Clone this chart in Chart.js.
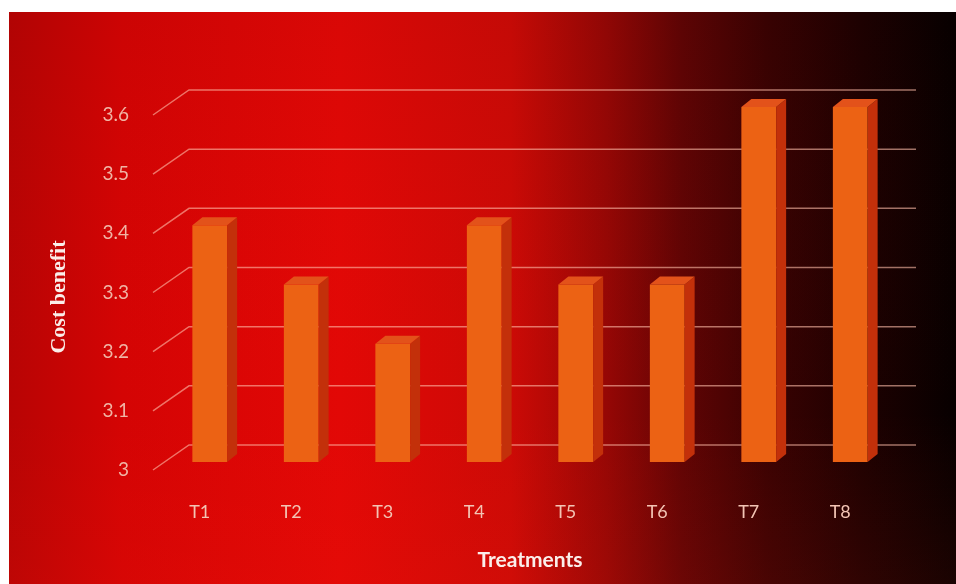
<!DOCTYPE html>
<html>
<head>
<meta charset="utf-8">
<title>Cost benefit by treatment</title>
<script src="https://cdn.jsdelivr.net/npm/chart.js@4.4.1/dist/chart.umd.min.js"></script>
<style>
  html, body { margin: 0; padding: 0; background: #fff; }
  #wrap { width: 956px; height: 584px; position: relative; }
</style>
</head>
<body>
<div id="wrap"><canvas id="mainChart"></canvas></div>
<script>
const treatments = ['T1', 'T2', 'T3', 'T4', 'T5', 'T6', 'T7', 'T8'];
const costBenefit = [3.4, 3.3, 3.2, 3.4, 3.3, 3.3, 3.6, 3.6];
const yTicks = [3, 3.1, 3.2, 3.3, 3.4, 3.5, 3.6];

// depth of the fake 3d: bar side/top and the wall behind
const depth = { dx: 10, dy: 8, wallDx: 25, wallDy: 17, frontDx: -11, frontDy: 8, wallRight: 916 };

const backdrop = {
  id: 'backdrop',
  beforeDraw(chart) {
    const ctx = chart.ctx;
    const g = ctx.createLinearGradient(9, 0, 956, 0);
    g.addColorStop(0, '#b80404');
    g.addColorStop(0.12, '#d40404');
    g.addColorStop(0.35, '#e20806');
    g.addColorStop(0.53, '#cc0a06');
    g.addColorStop(0.63, '#960705');
    g.addColorStop(0.71, '#600404');
    g.addColorStop(0.8, '#3a0202');
    g.addColorStop(0.9, '#1e0101');
    g.addColorStop(1, '#070000');
    ctx.save();
    ctx.fillStyle = g;
    ctx.fillRect(9, 12, 947, 572);
    // slightly brighter band towards the bottom
    const v = ctx.createLinearGradient(0, 12, 0, 584);
    v.addColorStop(0, 'rgba(0,0,0,0.04)');
    v.addColorStop(0.7, 'rgba(255,30,10,0)');
    v.addColorStop(1, 'rgba(255,40,20,0.08)');
    ctx.fillStyle = v;
    ctx.fillRect(9, 12, 947, 572);
    ctx.restore();
  }
};

const wallGrid = {
  id: 'wallGrid',
  beforeDatasetsDraw(chart) {
    const { ctx, chartArea, scales } = chart;
    const left = chartArea.left;
    ctx.save();
    ctx.strokeStyle = 'rgba(255,190,170,0.6)';
    ctx.lineWidth = 1.5;
    yTicks.forEach(t => {
      const py = scales.y.getPixelForValue(t);
      ctx.beginPath();
      ctx.moveTo(left + depth.frontDx, py + depth.frontDy);
      ctx.lineTo(left + depth.wallDx, py - depth.wallDy);
      ctx.lineTo(depth.wallRight, py - depth.wallDy);
      ctx.stroke();
    });
    ctx.restore();
  }
};

const barDepth = {
  id: 'barDepth',
  afterDatasetsDraw(chart) {
    const ctx = chart.ctx;
    const bottom = chart.chartArea.bottom;
    const meta = chart.getDatasetMeta(0);
    ctx.save();
    meta.data.forEach(bar => {
      const { x, y, width } = bar.getProps(['x', 'y', 'width'], true);
      const l = x - width / 2, r = x + width / 2;
      // side
      ctx.fillStyle = '#c3300a';
      ctx.beginPath();
      ctx.moveTo(r, y);
      ctx.lineTo(r + depth.dx, y - depth.dy);
      ctx.lineTo(r + depth.dx, bottom - depth.dy);
      ctx.lineTo(r, bottom);
      ctx.closePath();
      ctx.fill();
      // top
      ctx.fillStyle = '#e3521a';
      ctx.beginPath();
      ctx.moveTo(l, y);
      ctx.lineTo(l + depth.dx, y - depth.dy);
      ctx.lineTo(r + depth.dx, y - depth.dy);
      ctx.lineTo(r, y);
      ctx.closePath();
      ctx.fill();
    });
    ctx.restore();
  }
};

const yTitle = {
  id: 'yTitle',
  afterDraw(chart) {
    const ctx = chart.ctx;
    ctx.save();
    ctx.translate(59, 297);
    ctx.rotate(-Math.PI / 2);
    ctx.fillStyle = '#fbeeea';
    ctx.font = 'bold 22px "Liberation Serif", "DejaVu Serif", serif';
    ctx.textAlign = 'center';
    ctx.textBaseline = 'middle';
    ctx.fillText('Cost benefit', 0, 0);
    ctx.restore();
  }
};

const config = {
  type: 'bar',
  data: {
    labels: treatments,
    datasets: [{
      label: 'Cost benefit',
      data: costBenefit,
      backgroundColor: '#ec6214',
      borderWidth: 0,
      barPercentage: 0.38,
      categoryPercentage: 1
    }]
  },
  options: {
    responsive: true,
    maintainAspectRatio: false,
    animation: false,
    layout: {
      padding: { top: 107, left: 45, right: 60, bottom: 0 }
    },
    scales: {
      x: {
        grid: { display: false, drawTicks: false },
        border: { display: false },
        ticks: {
          color: '#f3c4b4',
          font: { family: 'Lato, "Open Sans", sans-serif', size: 18 },
          padding: 39,
          labelOffset: -10
        },
        title: {
          display: true,
          text: 'Treatments',
          color: '#fbeeea',
          font: { family: 'Lato, "Open Sans", sans-serif', size: 21, weight: 'bold' },
          padding: { top: 4, bottom: 11 }
        },
        afterFit: scale => { scale.height = 122; }
      },
      y: {
        min: 3,
        max: 3.6,
        grid: { display: false, drawTicks: false },
        border: { display: false },
        afterBuildTicks: scale => { scale.ticks = yTicks.map(v => ({ value: v })); },
        ticks: {
          color: '#f0b4a4',
          font: { family: 'Lato, "Open Sans", sans-serif', size: 19 },
          padding: 35,
          labelOffset: 8,
          callback: v => String(v)
        },
        afterFit: scale => { scale.width = 119; }
      }
    },
    plugins: {
      legend: { display: false },
      tooltip: { enabled: false }
    }
  },
  plugins: [backdrop, wallGrid, barDepth, yTitle]
};

new Chart('mainChart', config);
</script>
</body>
</html>
